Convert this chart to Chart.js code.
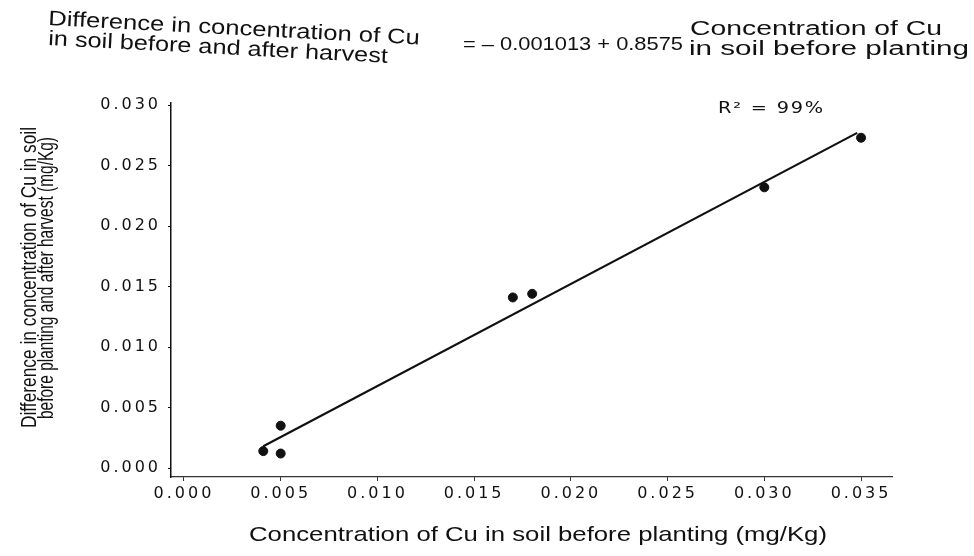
<!DOCTYPE html>
<html>
<head>
<meta charset="utf-8">
<script src="https://cdn.jsdelivr.net/npm/chart.js@4"></script>
<style>
  html, body { margin: 0; padding: 0; background: #fff; }
  #wrap { width: 974px; height: 556px; position: relative; }
</style>
</head>
<body>
<div id="wrap"><canvas id="cuChart" width="974" height="556"></canvas></div>
<script>
// measured points (mg/Kg)
const cuBefore = [0.0041, 0.0050, 0.0050, 0.0170, 0.0180, 0.0300, 0.0350];
const cuDiff = [0.0014, 0.0035, 0.0012, 0.0141, 0.0144, 0.0232, 0.0273];

// fitted line end points as drawn
const fitX = [0.0041, 0.0348];
const fitY = [0.0018, 0.0277];

const xTickValues = [0, 0.005, 0.010, 0.015, 0.020, 0.025, 0.030, 0.035];
const xTickLabels = ["0.000", "0.005", "0.010", "0.015", "0.020", "0.025", "0.030", "0.035"];
const yTickValues = [0, 0.005, 0.010, 0.015, 0.020, 0.025, 0.030];
const yTickLabels = ["0.000", "0.005", "0.010", "0.015", "0.020", "0.025", "0.030"];

const xTitle = "Concentration of Cu in soil before planting (mg/Kg)";
const yTitle = ["Difference in concentration of Cu in soil", "before planting and after harvest (mg/Kg)"];
const headLeft = ["Difference in concentration of Cu", "in soil before and after harvest"];
const headEq = "= \u2013 0.001013 + 0.8575";
const headRight = ["Concentration of Cu", "in soil before planting"];
const rSquared = "R\u00b2 = 99%";

// draw text squeezed/stretched to a given width
function fitText(ctx, text, x, y, width, size, angle, spacing, family) {
  ctx.save();
  ctx.font = size + "px " + (family || "'Liberation Sans', Arial, sans-serif");
  ctx.letterSpacing = (spacing || 0) + "px";
  ctx.fillStyle = "#111";
  ctx.textBaseline = "alphabetic";
  ctx.textAlign = "left";
  const w = ctx.measureText(text).width;
  ctx.translate(x, y);
  ctx.rotate((angle || 0) * Math.PI / 180);
  ctx.scale(width / w, 1);
  ctx.fillText(text, 0, 0);
  ctx.restore();
}

const textPlugin = {
  id: "textPlugin",
  beforeDraw(chart) {
    // tick labels in the scan are widely spaced
    chart.ctx.letterSpacing = "3px";
  },
  beforeDatasetsDraw(chart) {
    chart.ctx.letterSpacing = "0px";
  },
  afterDraw(chart) {
    const ctx = chart.ctx;
    // header equation
    fitText(ctx, headLeft[0], 48, 25, 372, 21, 3);
    fitText(ctx, headLeft[1], 48, 45, 340, 21, 3);
    fitText(ctx, headEq, 463, 50, 220, 19, 0);
    fitText(ctx, headRight[0], 690, 35, 252, 20, 0);
    fitText(ctx, headRight[1], 689, 55, 280, 20, 0);
    // R squared
    fitText(ctx, rSquared, 718, 113, 107, 16, 0, 1.5, "'DejaVu Sans'");
    // axis titles
    fitText(ctx, xTitle, 249, 541, 578, 21, 0);
    fitText(ctx, yTitle[0], 36, 428, 301, 22, -90);
    fitText(ctx, yTitle[1], 53, 419, 282, 22, -90);
  }
};

const ctx = document.getElementById("cuChart").getContext("2d");

new Chart(ctx, {
  type: "scatter",
  data: {
    datasets: [
      {
        label: "Cu",
        data: cuBefore.map((x, i) => ({ x: x, y: cuDiff[i] })),
        backgroundColor: "#111",
        borderColor: "#111",
        pointRadius: 4.5,
        pointHoverRadius: 4.5
      },
      {
        type: "line",
        label: "fit",
        data: fitX.map((x, i) => ({ x: x, y: fitY[i] })),
        borderColor: "#111",
        borderWidth: 2.2,
        pointRadius: 0,
        fill: false
      }
    ]
  },
  options: {
    responsive: false,
    animation: false,
    events: [],
    layout: { padding: { left: 0, top: 103, right: 82, bottom: 0 } },
    plugins: {
      legend: { display: false },
      tooltip: { enabled: false }
    },
    scales: {
      x: {
        type: "linear",
        min: -0.00067,
        max: 0.0366,
        afterFit(scale) { scale.height = 79; },
        afterBuildTicks(scale) { scale.ticks = xTickValues.map(v => ({ value: v })); },
        grid: { display: true, drawOnChartArea: false, drawTicks: true, tickLength: 4, color: "#333" },
        border: { display: true, color: "#333", width: 1.2 },
        ticks: {
          color: "#111",
          padding: 3,
          maxRotation: 0,
          font: { family: "'DejaVu Sans'", size: 16 },
          callback: (v, i) => xTickLabels[i]
        }
      },
      y: {
        type: "linear",
        min: -0.00074,
        max: 0.03017,
        afterFit(scale) { scale.width = 171; },
        afterBuildTicks(scale) { scale.ticks = yTickValues.map(v => ({ value: v })); },
        grid: { display: true, drawOnChartArea: false, drawTicks: true, tickLength: 3, color: "#111" },
        border: { display: true, color: "#111", width: 1.5 },
        ticks: {
          color: "#111",
          padding: 7,
          font: { family: "'DejaVu Sans'", size: 16 },
          callback: (v, i) => yTickLabels[i]
        }
      }
    }
  },
  plugins: [textPlugin]
});
</script>
</body>
</html>
